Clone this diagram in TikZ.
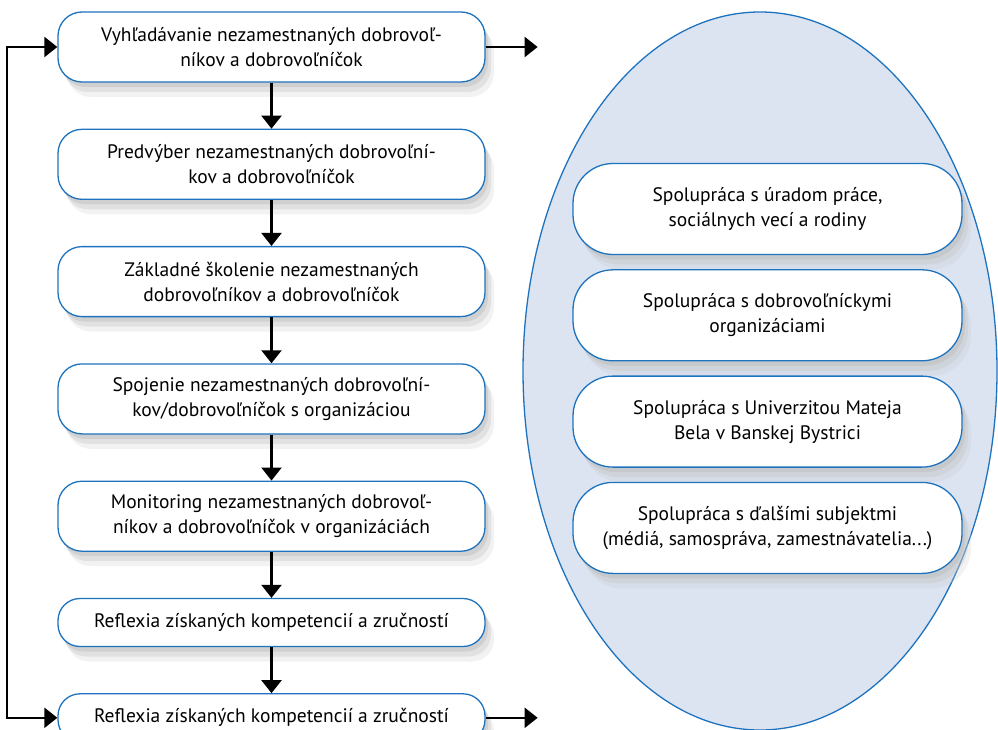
\documentclass[tikz,border=0pt]{standalone}
\usepackage{fontspec}
\setmainfont{PT Sans}
\usetikzlibrary{positioning,arrows.meta,shadows}
\definecolor{boxblue}{RGB}{30,115,190}
\definecolor{ovalfill}{RGB}{220,228,242}

\begin{document}
\begin{tikzpicture}[x=1pt, y=-1pt, node distance=46pt, line width=2.2pt,
    softshadow/.style={
      drop shadow={shadow xshift=3pt, shadow yshift=-5pt, opacity=0.45, fill=black!30},
      drop shadow={shadow xshift=6pt, shadow yshift=-10pt, opacity=0.35, fill=black!25},
      drop shadow={shadow xshift=9pt, shadow yshift=-15pt, opacity=0.25, fill=black!20}},
    stepbox/.style={rectangle, rounded corners=24pt, draw=boxblue, line width=1.3pt,
      fill=white, minimum width=427pt, minimum height=70pt, align=center,
      font=\fontsize{19.5}{25}\selectfont, softshadow},
    partbox/.style={stepbox, rounded corners=40pt, minimum width=389pt, minimum height=91pt},
    arr/.style={-{Triangle[length=13pt,width=20pt]}},
    arrboth/.style={{Triangle[length=13pt,width=20pt]}-{Triangle[length=13pt,width=20pt]}}]

  \useasboundingbox (0,0) rectangle (998,730);
  \clip (0,0) rectangle (998,730);

  % oval in the background
  \draw[draw=boxblue, line width=1.3pt, fill=ovalfill] (760,371) ellipse [x radius=237, y radius=359];

  % steps on the left
  \node[stepbox] (s1) at (271.5,47) {Vyhľadávanie nezamestnaných dobrovoľ-\\níkov a dobrovoľníčok};
  \node[stepbox] (s2) [below=of s1] {Predvýber nezamestnaných dobrovoľní-\\kov a dobrovoľníčok};
  \node[stepbox] (s3) [below=of s2] {Základné školenie nezamestnaných\\dobrovoľníkov a dobrovoľníčok};
  \node[stepbox] (s4) [below=of s3] {Spojenie nezamestnaných dobrovoľní-\\kov/dobrovoľníčok s organizáciou};
  \node[stepbox] (s5) [below=of s4] {Monitoring nezamestnaných dobrovoľ-\\níkov a dobrovoľníčok v organizáciách};
  \node[stepbox, minimum height=48pt, rounded corners=22pt] (s6) [below=of s5] {Reflexia získaných kompetencií a zručností};
  \node[stepbox, minimum height=48pt, rounded corners=22pt] (s7) [below=of s6] {Reflexia získaných kompetencií a zručností};

  % partners inside the oval
  \node[partbox] (p1) at (767.5,209) {Spolupráca s úradom práce,\\sociálnych vecí a rodiny};
  \node[partbox] (p2) [below=14pt of p1] {Spolupráca s dobrovoľníckymi\\organizáciami};
  \node[partbox] (p3) [below=14pt of p2] {Spolupráca s Univerzitou Mateja\\Bela v Banskej Bystrici};
  \node[partbox] (p4) [below=14pt of p3] {Spolupráca s ďalšími subjektmi\\(médiá, samospráva, zamestnávatelia...)};

  \coordinate (loop) at ([xshift=-50.5pt]s1.west);
  \coordinate (out1) at ([xshift=52pt]s1.east);
  \coordinate (out7) at ([xshift=52pt]s7.east);

  \path[arr]
    (s1) edge (s2)
    (s2) edge (s3)
    (s3) edge (s4)
    (s4) edge (s5)
    (s5) edge (s6)
    (s6) edge (s7)
    (s1.east) edge (out1)
    (s7.east) edge (out7);
  \draw[arrboth] (s1.west) -- (loop) |- (s7.west);
\end{tikzpicture}
\end{document}
